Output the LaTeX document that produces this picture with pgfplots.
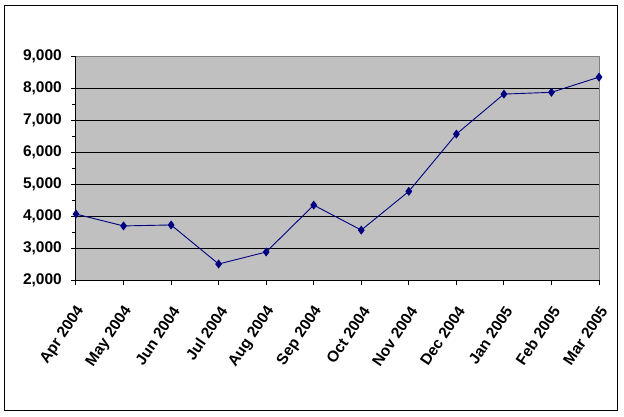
\documentclass[border=0pt]{standalone}
\usepackage{pgfplots}
\pgfplotsset{compat=1.18}
\usepackage{fontspec}
\setmainfont{Liberation Sans}
\definecolor{plotgray}{RGB}{192,192,192}
\definecolor{framegray}{RGB}{128,128,128}
\definecolor{navy}{RGB}{0,0,128}
\begin{document}
\begin{tikzpicture}[x=1pt,y=1pt]
\path[use as bounding box] (-76,-136) rectangle (548,280);
\draw[black, line width=1pt] (-71,-130) rectangle (541,275);
\begin{axis}[
    at={(0pt,0pt)}, anchor=south west,
    width=523pt, height=224pt, scale only axis,
    xmin=0, xmax=11, ymin=2000, ymax=9000,
    xtick={0,...,11},
    xticklabels={Apr 2004,May 2004,Jun 2004,Jul 2004,Aug 2004,Sep 2004,Oct 2004,Nov 2004,Dec 2004,Jan 2005,Feb 2005,Mar 2005},
    ytick={3000,4000,...,8000},
    extra y ticks={2000,9000},
    extra y tick style={grid=none},
    minor y tick num=1,
    scaled y ticks=false,
    /pgf/number format/1000 sep={,},
    /pgf/number format/assume math mode=true,
    axis lines*=left,
    axis background/.style={fill=plotgray, draw=framegray, line width=1pt},
    ymajorgrids,
    major grid style={black, line width=1pt},
    tick align=outside,
    major tick length=5pt, minor tick length=4pt,
    tick style={black, line width=1pt},
    axis line style={black, line width=1pt},
    every tick label/.append style={font=\fontsize{15.5}{18}\selectfont\bfseries, inner sep=0pt},
    yticklabel style={anchor=east, xshift=-9pt},
    xticklabel style={xshift=5pt, yshift=-23pt, rotate=56, anchor=east},
    clip=false,
]
\addplot[navy, line width=0.9pt, mark=diamond*, mark size=3.8pt, mark options={fill=navy, solid}] coordinates {
    (0, 4060)
    (1, 3690)
    (2, 3720)
    (3, 2500)
    (4, 2875)
    (5, 4340)
    (6, 3560)
    (7, 4770)
    (8, 6560)
    (9, 7810)
    (10, 7865)
    (11, 8340)
};
\end{axis}
\end{tikzpicture}
\end{document}
